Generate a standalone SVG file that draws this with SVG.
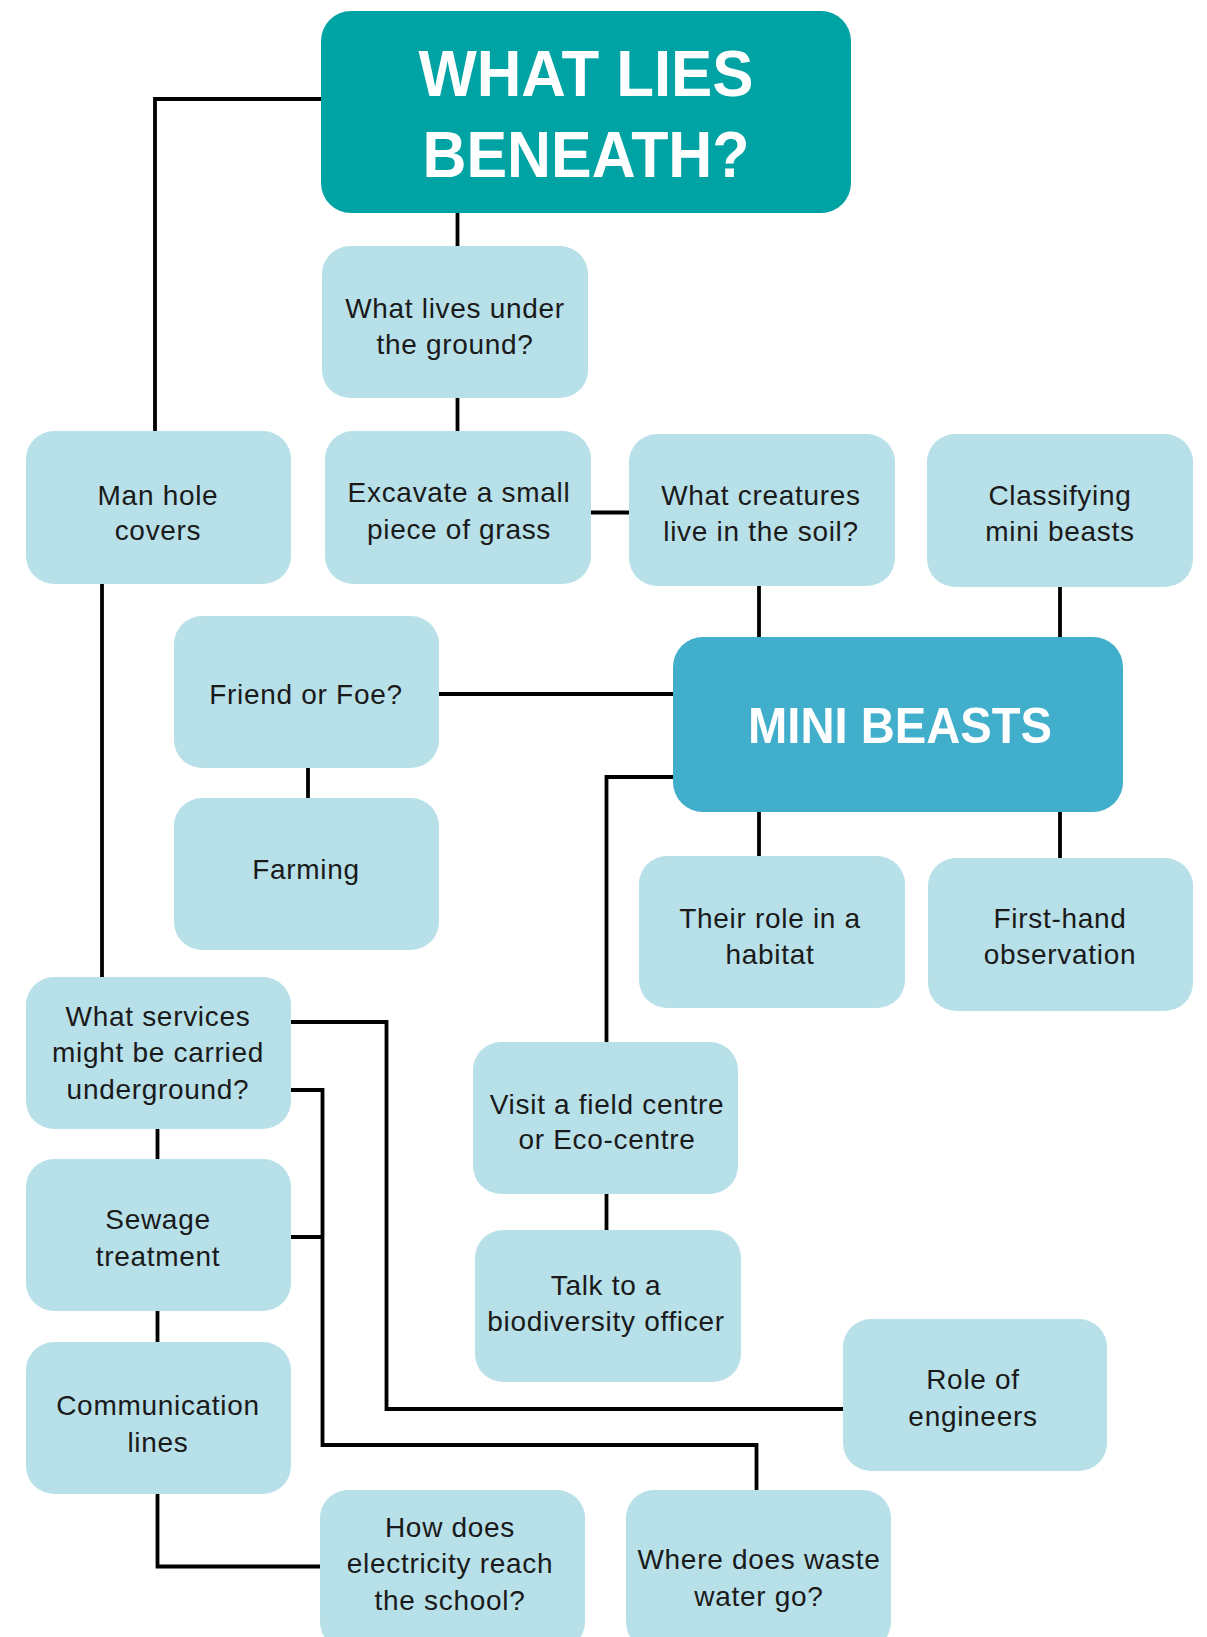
<svg xmlns="http://www.w3.org/2000/svg" width="1207" height="1637" viewBox="0 0 1207 1637">
<style>
.box{fill:#b8e0e8}
.t{font-family:"Liberation Sans",Arial,sans-serif;font-size:28px;fill:#1a1a1a;text-anchor:middle;letter-spacing:0.7px}
.h{font-family:"Liberation Sans",Arial,sans-serif;font-weight:bold;fill:#ffffff;text-anchor:middle}
.c{fill:none;stroke:#000;stroke-width:3.8;stroke-linejoin:miter}
</style>
<rect width="1207" height="1637" fill="#ffffff"/>
<g id="connectors">
<polyline class="c" points="321,99 155,99 155,432"/>
<line class="c" x1="457.5" y1="213" x2="457.5" y2="247"/>
<line class="c" x1="457.5" y1="397" x2="457.5" y2="432"/>
<line class="c" x1="590" y1="512.5" x2="630" y2="512.5"/>
<line class="c" x1="759" y1="585" x2="759" y2="638"/>
<line class="c" x1="1060" y1="585" x2="1060" y2="638"/>
<line class="c" x1="439" y1="694" x2="674" y2="694"/>
<line class="c" x1="308" y1="767" x2="308" y2="799"/>
<line class="c" x1="759" y1="811" x2="759" y2="857"/>
<line class="c" x1="1060" y1="811" x2="1060" y2="859"/>
<polyline class="c" points="674,777 606.5,777 606.5,1043"/>
<line class="c" x1="606.5" y1="1193" x2="606.5" y2="1231"/>
<line class="c" x1="102" y1="583" x2="102" y2="978"/>
<polyline class="c" points="290,1022 386.5,1022 386.5,1409 844,1409"/>
<polyline class="c" points="290,1090 322.5,1090 322.5,1445 756.5,1445 756.5,1491"/>
<line class="c" x1="290" y1="1237" x2="322.5" y2="1237"/>
<line class="c" x1="157.5" y1="1128" x2="157.5" y2="1160"/>
<line class="c" x1="157.5" y1="1310" x2="157.5" y2="1343"/>
<polyline class="c" points="157.5,1493 157.5,1566.5 321,1566.5"/>
</g>
<g id="title">
<rect x="321" y="11" width="530" height="202" rx="30" fill="#00a3a3"/>
<text class="h" x="586" y="96" font-size="65" textLength="335" lengthAdjust="spacingAndGlyphs">WHAT LIES</text>
<text class="h" x="586" y="177" font-size="65" textLength="327" lengthAdjust="spacingAndGlyphs">BENEATH?</text>
</g>
<g id="what-lives">
<rect class="box" x="322" y="246" width="266" height="152" rx="28"/>
<text class="t" x="455" y="318">What lives under</text>
<text class="t" x="455" y="354">the ground?</text>
</g>
<g id="man-hole">
<rect class="box" x="26" y="431" width="265" height="153" rx="28"/>
<text class="t" x="158" y="505">Man hole</text>
<text class="t" x="158" y="540">covers</text>
</g>
<g id="excavate">
<rect class="box" x="325" y="431" width="266" height="153" rx="28"/>
<text class="t" x="459" y="502">Excavate a small</text>
<text class="t" x="459" y="539">piece of grass</text>
</g>
<g id="what-creatures">
<rect class="box" x="629" y="434" width="266" height="152" rx="28"/>
<text class="t" x="761" y="505">What creatures</text>
<text class="t" x="761" y="541">live in the soil?</text>
</g>
<g id="classifying">
<rect class="box" x="927" y="434" width="266" height="153" rx="28"/>
<text class="t" x="1060" y="505">Classifying</text>
<text class="t" x="1060" y="541">mini beasts</text>
</g>
<g id="friend-or-foe">
<rect class="box" x="174" y="616" width="265" height="152" rx="28"/>
<text class="t" x="306" y="704">Friend or Foe?</text>
</g>
<g id="mini-beasts">
<rect x="673" y="637" width="450" height="175" rx="30" fill="#41afcb"/>
<text class="h" x="900" y="743" font-size="50" textLength="304" lengthAdjust="spacingAndGlyphs">MINI BEASTS</text>
</g>
<g id="farming">
<rect class="box" x="174" y="798" width="265" height="152" rx="28"/>
<text class="t" x="306" y="879">Farming</text>
</g>
<g id="their-role">
<rect class="box" x="639" y="856" width="266" height="152" rx="28"/>
<text class="t" x="770" y="928">Their role in a</text>
<text class="t" x="770" y="964">habitat</text>
</g>
<g id="first-hand">
<rect class="box" x="928" y="858" width="265" height="153" rx="28"/>
<text class="t" x="1060" y="928">First-hand</text>
<text class="t" x="1060" y="964">observation</text>
</g>
<g id="what-services">
<rect class="box" x="26" y="977" width="265" height="152" rx="28"/>
<text class="t" x="158" y="1026">What services</text>
<text class="t" x="158" y="1062">might be carried</text>
<text class="t" x="158" y="1099">underground?</text>
</g>
<g id="visit">
<rect class="box" x="473" y="1042" width="265" height="152" rx="28"/>
<text class="t" x="607" y="1114">Visit a field centre</text>
<text class="t" x="607" y="1149">or Eco-centre</text>
</g>
<g id="sewage">
<rect class="box" x="26" y="1159" width="265" height="152" rx="28"/>
<text class="t" x="158" y="1229">Sewage</text>
<text class="t" x="158" y="1266">treatment</text>
</g>
<g id="talk">
<rect class="box" x="475" y="1230" width="266" height="152" rx="28"/>
<text class="t" x="606" y="1295">Talk to a</text>
<text class="t" x="606" y="1331">biodiversity officer</text>
</g>
<g id="role-of-engineers">
<rect class="box" x="843" y="1319" width="264" height="152" rx="28"/>
<text class="t" x="973" y="1389">Role of</text>
<text class="t" x="973" y="1426">engineers</text>
</g>
<g id="communication">
<rect class="box" x="26" y="1342" width="265" height="152" rx="28"/>
<text class="t" x="158" y="1415">Communication</text>
<text class="t" x="158" y="1452">lines</text>
</g>
<g id="how-does">
<rect class="box" x="320" y="1490" width="265" height="160" rx="28"/>
<text class="t" x="450" y="1537">How does</text>
<text class="t" x="450" y="1573">electricity reach</text>
<text class="t" x="450" y="1610">the school?</text>
</g>
<g id="where-does">
<rect class="box" x="626" y="1490" width="265" height="160" rx="28"/>
<text class="t" x="759" y="1569">Where does waste</text>
<text class="t" x="759" y="1606">water go?</text>
</g>
</svg>
